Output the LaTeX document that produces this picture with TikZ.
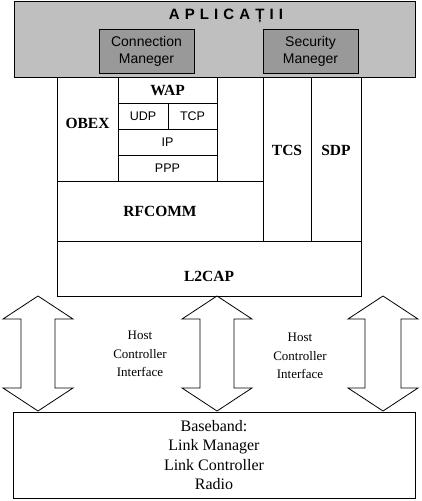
\documentclass[tikz,border=0pt]{standalone}
\usepackage{fontspec}
\setmainfont{Liberation Serif}
\setsansfont{Liberation Sans}
\begin{document}
\begin{tikzpicture}[x=1pt, y=-1pt,
      every node/.append style={inner sep=0pt, outer sep=0pt},
      cell/.style={draw=black, line width=0.8pt, anchor=north west, align=center,
                   font=\fontsize{15.5}{17}\selectfont\bfseries},
      pcell/.style={cell, font=\sffamily\fontsize{12.5}{15}\selectfont},
      mgr/.style={draw=black, line width=0.8pt, fill=black!40, anchor=north west, align=center,
                  font=\sffamily\fontsize{14}{17}\selectfont},
      hci/.style={align=center, font=\fontsize{13}{18.5}\selectfont},
      twoway/.style={draw=black, line width=0.8pt, line join=miter}]
    \useasboundingbox (0,0) rectangle (422,501);

    % ---------------- applications ----------------
    \node[draw=black, line width=0.8pt, fill=black!25, anchor=north west,
          minimum width=401, minimum height=76] (apps) at (14,1) {};
    \node[font=\sffamily\bfseries\fontsize{15}{17}\selectfont\addfontfeatures{LetterSpace=34}] (title) at (226,16) {APLICAȚII};
    \node[mgr, minimum width=95, minimum height=44] (conn) at (99,29) {Connection\\Maneger};
    \node[mgr, minimum width=95, minimum height=44] (sec)  at (263,29) {Security\\Maneger};

    % ---------------- protocol stack ----------------
    \node[cell, minimum width=61, minimum height=104] (obex) at (57,77) {\raisebox{6pt}[\height][\depth]{OBEX}};
    \node[cell, minimum width=99, minimum height=26]  (wap)  at (118,77) {WAP};
    \node[pcell, minimum width=50, minimum height=26] (udp)  at (118,103) {UDP};
    \node[pcell, minimum width=49, minimum height=26] (tcp)  at (168,103) {TCP};
    \node[pcell, minimum width=99, minimum height=26] (ip)   at (118,129) {IP};
    \node[pcell, minimum width=99, minimum height=26] (ppp)  at (118,155) {PPP};
    \draw[line width=0.8pt] (wap.north east) -- (ppp.south east);
    \node[cell, minimum width=206, minimum height=60] (rfcomm) at (57,181) {RFCOMM};
    \node[cell, minimum width=48, minimum height=164] (tcs) at (263,77) {\raisebox{9pt}[\height][\depth]{TCS}};
    \node[cell, minimum width=50, minimum height=164] (sdp) at (311,77) {\raisebox{9pt}[\height][\depth]{SDP}};
    \node[cell, minimum width=304, minimum height=55] (l2cap) at (57,241) {\raisebox{-8pt}[\height][\depth]{L2CAP}};

    % ---------------- host controller interface ----------------
    \foreach \tx/\hw/\sw in {38/35/17, 217/35/17, 383/35/18}
      \draw[twoway] (\tx,296) -- (\tx+\hw,319) -- (\tx+\sw,319) -- (\tx+\sw,388) -- (\tx+\hw,388)
        -- (\tx,411) -- (\tx-\hw,388) -- (\tx-\sw,388) -- (\tx-\sw,319) -- (\tx-\hw,319) -- cycle;
    \node[hci] (hci-l) at (140,354) {Host\\Controller\\Interface};
    \node[hci] (hci-r) at (300,356) {Host\\Controller\\Interface};

    % ---------------- baseband ----------------
    \node[draw=black, line width=0.8pt, anchor=north west, align=center,
          minimum width=402, minimum height=86, font=\fontsize{16}{19.5}\selectfont]
      (base) at (13,412) {Baseband:\\Link Manager\\Link Controller\\Radio};
  \end{tikzpicture}
\end{document}
